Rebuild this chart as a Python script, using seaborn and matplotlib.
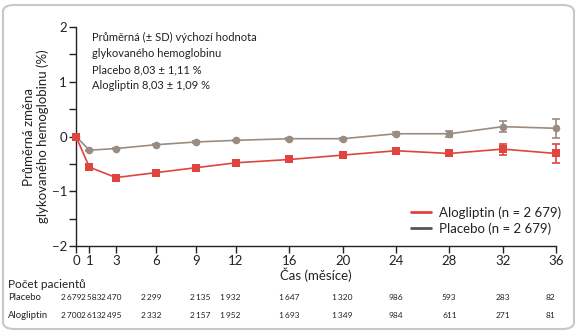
import matplotlib
matplotlib.use("Agg")
import matplotlib.pyplot as plt
from matplotlib import font_manager
from matplotlib.patches import FancyBboxPatch
from matplotlib.lines import Line2D
import seaborn as sns
import pandas as pd

# ---- data ----
months = [0, 1, 3, 6, 9, 12, 16, 20, 24, 28, 32, 36]
placebo = [0.0, -0.25, -0.22, -0.15, -0.10, -0.07, -0.04, -0.04, 0.05, 0.05, 0.18, 0.15]
alogliptin = [0.0, -0.56, -0.75, -0.66, -0.57, -0.48, -0.42, -0.34, -0.26, -0.31, -0.23, -0.31]
placebo_err = [0, 0.01, 0.01, 0.01, 0.01, 0.01, 0.02, 0.02, 0.03, 0.05, 0.10, 0.17]
alogliptin_err = [0, 0.01, 0.01, 0.01, 0.01, 0.01, 0.02, 0.02, 0.03, 0.05, 0.10, 0.17]
n_placebo = ["2\u2009679", "2\u2009583", "2\u2009470", "2\u2009299", "2\u2009135", "1\u2009932",
             "1\u2009647", "1\u2009320", "986", "593", "283", "82"]
n_alogliptin = ["2\u2009700", "2\u2009613", "2\u2009495", "2\u2009332", "2\u2009157", "1\u2009952",
                "1\u2009693", "1\u2009349", "984", "611", "271", "81"]
x_ticks = [0, 1, 3, 6, 9, 12, 16, 20, 24, 28, 32, 36]

# layout: column centres of the patient-count table (in month units)
table_cols = [-0.35, 1.13, 2.65, 5.65, 9.3, 11.6, 16, 20, 24, 28, 32, 35.6]

RED = "#e0443f"
GREY = "#9b8c80"
LEG_GREY = "#555555"

sns.set_theme(style="white")
plt.rcParams["font.family"] = ["Lato", "DejaVu Sans"]
names = {f.name for f in font_manager.fontManager.ttflist}
narrow = "Liberation Sans Narrow" if "Liberation Sans Narrow" in names else "Lato"

fig = plt.figure(figsize=(5.79, 3.34), dpi=100)
ax = fig.add_axes([76/579, 1-246/334, 480/579, 219/334])

df = pd.DataFrame({
    "month": months * 2,
    "change": placebo + alogliptin,
    "group": ["Placebo"] * len(months) + ["Alogliptin"] * len(months),
})
sns.lineplot(data=df, x="month", y="change", hue="group", style="group",
             markers={"Placebo": "o", "Alogliptin": "s"}, dashes=False,
             palette={"Placebo": GREY, "Alogliptin": RED},
             markersize=5.5, markeredgewidth=0, linewidth=1.2,
             legend=False, ax=ax, clip_on=False, zorder=3)
ax.errorbar(months, placebo, yerr=placebo_err, fmt="none", ecolor=GREY,
            elinewidth=1.2, capsize=3, capthick=1.2, clip_on=False, zorder=2)
ax.errorbar(months, alogliptin, yerr=alogliptin_err, fmt="none", ecolor=RED,
            elinewidth=1.2, capsize=3, capthick=1.2, clip_on=False, zorder=2)

ax.set_xlim(0, 36)
ax.set_ylim(-2, 2)
ax.set_xticks(x_ticks)
ax.set_xticklabels([str(t) for t in x_ticks])
ax.set_yticks([-2, -1, 0, 1, 2])
ax.set_yticklabels(["\u22122", "\u22121", "0", "1", "2"])
ax.set_yticks([-1.5, -0.5, 0.5, 1.5], minor=True)
for s in ["top", "right"]:
    ax.spines[s].set_visible(False)
for s in ["left", "bottom"]:
    ax.spines[s].set_color("#222222")
    ax.spines[s].set_linewidth(1.0)
ax.tick_params(axis="both", which="both", direction="out", length=5, width=1.0,
               color="#222222", labelsize=9.5, labelcolor="#222222", pad=1.5,
               left=True, bottom=True)
ax.set_xlabel("Čas (měsíce)", fontsize=9.5, color="#222222", labelpad=0)
ax.set_ylabel("Průměrná změna\nglykovaného hemoglobinu (%)", fontsize=9.5,
              color="#222222", labelpad=2, linespacing=1.15)

ax.text(92/579, 1-32/334,
        "Průměrná (± SD) výchozí hodnota\nglykovaného hemoglobinu\nPlacebo 8,03 ± 1,11 %\nAlogliptin 8,03 ± 1,09 %",
        transform=fig.transFigure, fontsize=8, va="top", ha="left",
        color="#222222", linespacing=1.55)

handles = [Line2D([], [], color=RED, lw=2), Line2D([], [], color=LEG_GREY, lw=2)]
leg = ax.legend(handles, ["Alogliptin (n = 2 679)", "Placebo (n = 2 679)"],
                loc="lower right", bbox_to_anchor=(570/579, 1-244/334),
                bbox_transform=fig.transFigure, frameon=False, fontsize=9.5,
                handlelength=1.5, handletextpad=0.6, labelspacing=0.25,
                borderpad=0.2)
for t in leg.get_texts():
    t.set_color("#222222")

# patients table
fig.text(8/579, 1-285/334, "Počet pacientů", fontsize=8.5, va="center", ha="left", color="#222222")
rows = [("Placebo", n_placebo, 1-298/334), ("Alogliptin", n_alogliptin, 1-315/334)]
trans = matplotlib.transforms.blended_transform_factory(ax.transData, fig.transFigure)
for label, vals, yy in rows:
    fig.text(8/579, yy, label, fontsize=6.8, va="center", ha="left",
             family=narrow, color="#222222")
    for xm, v in zip(table_cols, vals):
        ax.text(xm, yy, v, transform=trans, fontsize=6, va="center", ha="center",
                family=narrow, color="#222222", clip_on=False)

box = FancyBboxPatch((3/579, 5/334), 571/579, 324/334,
                     boxstyle="round,pad=0,rounding_size=0.02",
                     transform=fig.transFigure, fill=False,
                     edgecolor="#c8c8c8", linewidth=1.5)
fig.patches.append(box)

fig.savefig("out.png", dpi=100)
